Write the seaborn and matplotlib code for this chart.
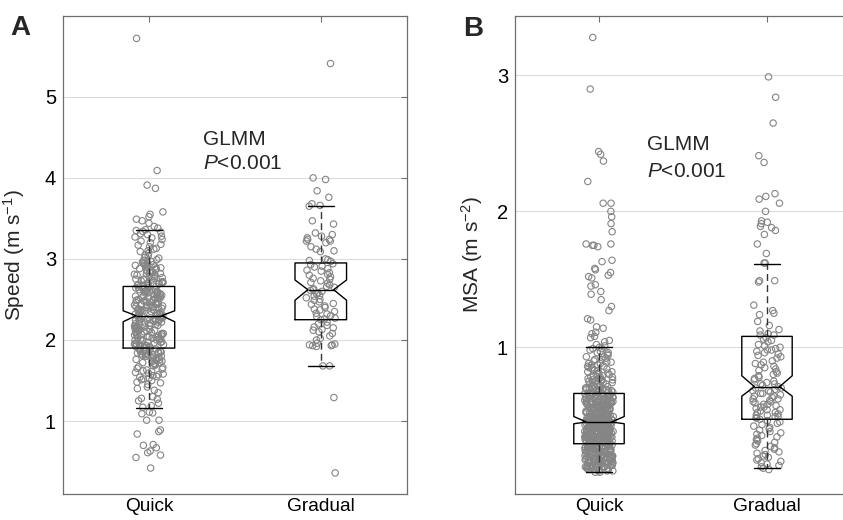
import numpy as np
import pandas as pd
import matplotlib
matplotlib.use("Agg")
import matplotlib.pyplot as plt
import seaborn as sns

groups = ["Quick", "Gradual"]

# ---------------- Panel A: speed (m s-1) ----------------
speed_quick = [
    5.72, 4.09, 3.91, 3.87, 3.58, 3.55, 3.52, 3.49, 3.47, 3.44, 3.40, 3.38,
    3.36, 3.35, 3.34, 3.33, 3.31, 3.30, 3.28, 3.27, 3.26, 3.24, 3.22, 3.20,
    3.18, 3.17, 3.15, 3.13, 3.12, 3.10, 3.09, 3.07, 3.05, 3.04, 3.02, 3.01,
    2.99, 2.98, 2.97, 2.96, 2.95, 2.94, 2.93, 2.92, 2.91, 2.90, 2.90, 2.89,
    2.88, 2.87, 2.86, 2.85, 2.84, 2.83, 2.82, 2.81, 2.80, 2.80, 2.79, 2.78,
    2.77, 2.76, 2.75, 2.75, 2.74, 2.73, 2.72, 2.71, 2.70, 2.70, 2.69, 2.68,
    2.67, 2.67,
    2.66, 2.65, 2.65, 2.64, 2.63, 2.63, 2.62, 2.61, 2.61, 2.60, 2.59, 2.59,
    2.58, 2.57, 2.57, 2.56, 2.55, 2.55, 2.54, 2.53, 2.53, 2.52, 2.51, 2.51,
    2.50, 2.49, 2.49, 2.48, 2.47, 2.47, 2.46, 2.45, 2.45, 2.44, 2.43, 2.43,
    2.42, 2.41, 2.41, 2.40, 2.39, 2.39, 2.38, 2.37, 2.37, 2.36, 2.35, 2.35,
    2.34, 2.33, 2.33, 2.32, 2.31, 2.31, 2.30,
    2.29, 2.28, 2.28, 2.27, 2.26, 2.26, 2.25, 2.24, 2.23, 2.23, 2.22, 2.21,
    2.20, 2.20, 2.19, 2.18, 2.17, 2.17, 2.16, 2.15, 2.14, 2.14, 2.13, 2.12,
    2.11, 2.11, 2.10, 2.09, 2.08, 2.08, 2.07, 2.06, 2.05, 2.05, 2.04, 2.03,
    2.02, 2.02, 2.01, 2.00, 1.99, 1.99, 1.98, 1.97, 1.96, 1.96, 1.95, 1.94,
    1.93, 1.93, 1.92, 1.91,
    1.90, 1.89, 1.89, 1.88, 1.87, 1.87, 1.86, 1.85, 1.85, 1.84, 1.83, 1.83,
    1.82, 1.81, 1.81, 1.80, 1.80, 1.79,
    1.78, 1.77, 1.76, 1.75, 1.74, 1.73, 1.72, 1.71, 1.70, 1.68, 1.67, 1.66,
    1.64, 1.63, 1.61, 1.60, 1.58, 1.57, 1.56, 1.55, 1.54, 1.52, 1.51, 1.50,
    1.48, 1.47, 1.45, 1.42, 1.40, 1.38, 1.35, 1.30, 1.28, 1.27, 1.25, 1.22,
    1.19, 1.17,
    1.11, 1.10, 1.09, 1.01, 1.01, 0.89, 0.87, 0.84, 0.71, 0.70, 0.67, 0.63,
    0.61, 0.58, 0.55, 0.42,
    2.95, 2.92, 2.88, 2.85, 2.82, 2.78, 2.74, 2.71, 2.68, 2.64, 2.62, 2.60,
    2.58, 2.56, 2.54, 2.52, 2.50, 2.48, 2.46, 2.44, 2.42, 2.40, 2.38, 2.36,
    2.34, 2.32, 2.30, 2.28, 2.27, 2.25, 2.24, 2.22, 2.21, 2.19, 2.18, 2.16,
    2.15, 2.13, 2.12, 2.10, 2.09, 2.07, 2.06, 2.04, 2.03, 2.01, 2.00, 1.98,
    1.97, 1.95, 1.94, 1.92, 1.91, 1.88, 1.86, 1.84, 1.82, 1.80, 1.78, 1.76,
    1.72, 1.69, 1.65, 1.62, 1.59, 1.53,
]

speed_gradual = [
    5.41, 4.00, 3.98, 3.84, 3.76, 3.68, 3.66, 3.65, 3.47, 3.43,
    3.32, 3.30, 3.28, 3.26, 3.24, 3.24, 3.22, 3.22, 3.20, 3.15, 3.12, 3.10,
    3.09, 3.00, 2.99, 2.98, 2.97,
    2.94, 2.93, 2.91, 2.90, 2.88, 2.86, 2.85, 2.83, 2.81, 2.80, 2.78, 2.76,
    2.75, 2.73, 2.71, 2.70, 2.68, 2.66, 2.65, 2.63, 2.62, 2.61, 2.60, 2.58,
    2.57, 2.55, 2.54, 2.52, 2.50, 2.49, 2.47, 2.45, 2.44, 2.42, 2.40, 2.38,
    2.37, 2.35, 2.33, 2.32, 2.30, 2.29, 2.27, 2.26, 2.25,
    2.22, 2.20, 2.18, 2.16, 2.15, 2.13, 2.12, 2.10, 2.08, 2.05, 2.02, 2.00,
    1.96, 1.95, 1.94, 1.94, 1.93, 1.93, 1.92,
    1.68, 1.68, 1.29, 0.36,
]

# box statistics (Quick, Gradual)
speed_q1 = [1.90, 2.25]
speed_med = [2.30, 2.62]
speed_q3 = [2.66, 2.95]
speed_whislo = [1.16, 1.68]
speed_whishi = [3.36, 3.65]
speed_cilo = [2.225, 2.49]
speed_cihi = [2.36, 2.74]

# ---------------- Panel B: MSA (m s-2) ----------------
msa_quick_tail = [
    3.28, 2.90, 2.44, 2.42, 2.37, 2.22, 2.06, 2.06, 2.00, 1.96, 1.91, 1.85,
    1.76, 1.76, 1.75, 1.75, 1.74, 1.64, 1.63, 1.58, 1.57, 1.55, 1.53, 1.52,
    1.51, 1.46, 1.45, 1.41, 1.39, 1.35, 1.30, 1.27, 1.21, 1.20, 1.15, 1.14,
    1.11, 1.10, 1.08, 1.07, 1.05, 1.04, 1.02, 1.01, 1.00,
]
msa_quick_core_values = [
    0.08, 0.09, 0.10, 0.11, 0.12, 0.13, 0.14, 0.15, 0.16, 0.17, 0.18, 0.19,
    0.20, 0.21, 0.22, 0.23, 0.24, 0.25, 0.26, 0.27, 0.28, 0.29, 0.30, 0.31,
    0.32, 0.33, 0.34, 0.35, 0.36, 0.37, 0.38, 0.39, 0.40, 0.41, 0.42, 0.43,
    0.44, 0.45, 0.46, 0.47, 0.48, 0.49, 0.50, 0.51, 0.52, 0.53, 0.54, 0.55,
    0.56, 0.57, 0.58, 0.59, 0.60, 0.61, 0.62, 0.63, 0.64, 0.65, 0.66, 0.67,
    0.68, 0.69, 0.70, 0.71, 0.72, 0.73, 0.74, 0.75, 0.76, 0.77, 0.78, 0.79,
    0.80, 0.81, 0.82, 0.83, 0.84, 0.85, 0.86, 0.87, 0.88, 0.89, 0.90, 0.91,
    0.92, 0.93, 0.94, 0.95, 0.96, 0.97, 0.98, 0.99,
]
msa_quick_core_counts = [
    2, 3, 4, 5, 5, 6, 6, 6, 6, 6, 6, 6,
    6, 6, 6, 6, 6, 6, 7, 7, 7, 7, 7, 8,
    8, 8, 8, 8, 8, 8, 8, 8, 8, 8, 8, 7,
    7, 7, 7, 7, 7, 7, 7, 6, 6, 6, 6, 6,
    6, 6, 6, 6, 6, 6, 5, 5, 5, 5, 5, 4,
    4, 4, 4, 4, 3, 3, 3, 3, 3, 3, 3, 2,
    2, 2, 2, 2, 2, 2, 2, 2, 2, 2, 1, 2,
    1, 2, 1, 1, 2, 1, 1, 2,
]

msa_gradual = [
    2.99, 2.84, 2.65, 2.41, 2.36, 2.13, 2.11, 2.09, 2.06, 2.00, 1.93, 1.92,
    1.91, 1.89, 1.88, 1.86, 1.83, 1.76, 1.69, 1.62, 1.62, 1.49, 1.49, 1.48,
    1.31, 1.27, 1.25, 1.24, 1.19, 1.16, 1.13, 1.12, 1.10, 1.09, 1.09,
    1.07, 1.06, 1.05, 1.04, 1.02, 1.01, 1.00, 0.99, 0.98, 0.98, 0.97, 0.96,
    0.95, 0.94, 0.93, 0.92, 0.90, 0.89, 0.88, 0.87, 0.86, 0.85, 0.84, 0.83,
    0.82, 0.81, 0.80, 0.79, 0.78, 0.77, 0.76, 0.75, 0.74, 0.73, 0.73, 0.72,
    0.71,
    0.70, 0.70, 0.69, 0.68, 0.68, 0.67, 0.66, 0.66, 0.65, 0.64, 0.64, 0.63,
    0.62, 0.62, 0.61, 0.60, 0.60, 0.59, 0.58, 0.58, 0.57, 0.56, 0.56, 0.55,
    0.54, 0.54, 0.53, 0.52, 0.52, 0.51, 0.50, 0.50, 0.49, 0.49, 0.48, 0.48,
    0.47,
    0.46, 0.45, 0.44, 0.43, 0.42, 0.41, 0.40, 0.39, 0.38, 0.37, 0.36, 0.35,
    0.34, 0.33, 0.32, 0.31, 0.30, 0.29, 0.28, 0.27, 0.26, 0.25, 0.24, 0.23,
    0.22, 0.21, 0.20, 0.19, 0.18, 0.17, 0.16, 0.15, 0.14, 0.13, 0.12, 0.11,
    0.10,
]

msa_q1 = [0.29, 0.47]
msa_med = [0.45, 0.71]
msa_q3 = [0.66, 1.08]
msa_whislo = [0.08, 0.11]
msa_whishi = [1.00, 1.61]
msa_cilo = [0.437, 0.64]
msa_cihi = [0.49, 0.79]

speed_ticks = [1, 2, 3, 4, 5]
msa_ticks = [1, 2, 3]

# ---------------- styling ----------------
sns.set_theme(style="white")
plt.rcParams["font.family"] = ["Liberation Sans", "DejaVu Sans"]
plt.rcParams["mathtext.fontset"] = "custom"
plt.rcParams["mathtext.rm"] = "Liberation Sans"
plt.rcParams["mathtext.it"] = "Liberation Sans:italic"
plt.rcParams["mathtext.default"] = "regular"

np.random.seed(7)

POINT_COL = "#858585"
SPINE_COL = "#6e6e6e"
GRID_COL = "#dcdcdc"


def make_df(quick, gradual):
    return pd.DataFrame({
        "group": ["Quick"] * len(quick) + ["Gradual"] * len(gradual),
        "value": list(quick) + list(gradual),
    })


def make_stats(q1, med, q3, lo, hi, cilo, cihi):
    return [dict(q1=q1[i], med=med[i], q3=q3[i], whislo=lo[i], whishi=hi[i],
                 cilo=cilo[i], cihi=cihi[i], fliers=[]) for i in range(len(q1))]


def draw_panel(ax, df, stats, ylim, yticks, ylabel, label_x):
    sns.stripplot(data=df, x="group", y="value", order=groups, jitter=0.085,
                  size=4.6, color=POINT_COL, edgecolor=POINT_COL,
                  linewidth=0.8, ax=ax, zorder=2)
    for coll in ax.collections:
        coll.set_facecolor("none")
        coll.set_edgecolor(POINT_COL)
        coll.set_linewidth(0.8)
    ax.bxp(stats, positions=[0, 1], widths=0.3, shownotches=True,
           showfliers=False, manage_ticks=False, zorder=3,
           boxprops=dict(color="black", linewidth=1.0),
           medianprops=dict(color="black", linewidth=1.0),
           whiskerprops=dict(color="#333333", linewidth=1.0,
                             linestyle=(0, (5, 3))),
           capprops=dict(color="black", linewidth=1.0))
    ax.set_xlim(-0.5, 1.5)
    ax.set_ylim(*ylim)
    ax.set_yticks(yticks)
    ax.set_xticks([0, 1])
    ax.set_xticklabels(groups)
    ax.set_xlabel("")
    ax.set_ylabel(ylabel, fontsize=15)
    ax.yaxis.set_label_coords(label_x, 0.5)
    ax.yaxis.grid(True, color=GRID_COL, linewidth=0.8)
    ax.xaxis.grid(False)
    ax.set_axisbelow(True)
    for sp in ax.spines.values():
        sp.set_visible(True)
        sp.set_color(SPINE_COL)
        sp.set_linewidth(0.9)
    ax.tick_params(axis="both", direction="in", top=True, right=True,
                   length=4, width=0.8, color=SPINE_COL, labelsize=14.5,
                   labelcolor="black")
    ax.tick_params(axis="y", pad=5)
    ax.tick_params(axis="x", pad=3, labelsize=13.8)


fig = plt.figure(figsize=(8.43, 5.2), dpi=100)
axA = fig.add_axes([63 / 843, 1 - 494 / 520, 343.7 / 843, 478.3 / 520])
axB = fig.add_axes([515 / 843, 1 - 494 / 520, 336 / 843, 478.3 / 520])

msa_quick = list(msa_quick_tail) + list(np.repeat(msa_quick_core_values, msa_quick_core_counts))

draw_panel(axA, make_df(speed_quick, speed_gradual),
           make_stats(speed_q1, speed_med, speed_q3, speed_whislo, speed_whishi,
                      speed_cilo, speed_cihi),
           (0.1, 6.0), speed_ticks, "Speed (m s$^{-1}$)", -0.105)
draw_panel(axB, make_df(msa_quick, msa_gradual),
           make_stats(msa_q1, msa_med, msa_q3, msa_whislo, msa_whishi,
                      msa_cilo, msa_cihi),
           (-0.08, 3.44), msa_ticks, "MSA (m s$^{-2}$)", -0.09)

axA.text(0.314, 4.41, "GLMM", fontsize=15, ha="left", va="baseline")
axA.text(0.314, 4.107, r"$\mathit{P}$<0.001", fontsize=15, ha="left", va="baseline")
axB.text(0.284, 2.45, "GLMM", fontsize=15, ha="left", va="baseline")
axB.text(0.284, 2.254, r"$\mathit{P}$<0.001", fontsize=15, ha="left", va="baseline")

fig.text(10 / 843, 1 - 35 / 520, "A", fontsize=20, fontweight="bold", va="baseline")
fig.text(463 / 843, 1 - 36 / 520, "B", fontsize=20, fontweight="bold", va="baseline")

fig.savefig("out.png", dpi=100)
